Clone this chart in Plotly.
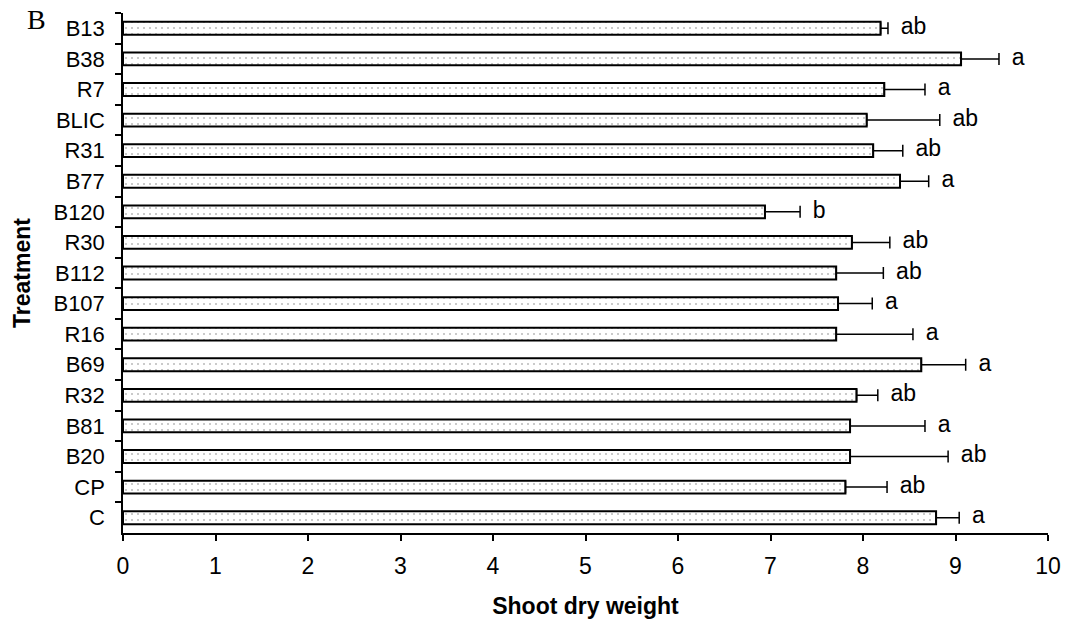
import plotly.graph_objects as go

treatments = ["B13", "B38", "R7", "BLIC", "R31", "B77", "B120", "R30", "B112",
              "B107", "R16", "B69", "R32", "B81", "B20", "CP", "C"]
shoot_dry_weight = [8.19, 9.06, 8.23, 8.04, 8.11, 8.40, 6.94, 7.88, 7.71,
                    7.73, 7.71, 8.63, 7.93, 7.86, 7.86, 7.81, 8.79]
error_plus = [0.08, 0.41, 0.44, 0.79, 0.32, 0.31, 0.38, 0.41, 0.51,
              0.37, 0.83, 0.48, 0.23, 0.81, 1.06, 0.45, 0.25]
letters = ["ab", "a", "a", "ab", "ab", "a", "b", "ab", "ab",
           "a", "a", "a", "ab", "a", "ab", "ab", "a"]

FONT = "Liberation Sans, Arial, sans-serif"

fig = go.Figure()
fig.add_trace(go.Bar(
    y=treatments,
    x=shoot_dry_weight,
    orientation="h",
    width=0.42,
    marker=dict(
        color="white",
        line=dict(color="black", width=2),
        pattern=dict(shape=".", fgcolor="#7a7a7a", bgcolor="white", size=6, solidity=0.1),
    ),
    error_x=dict(
        type="data",
        symmetric=False,
        array=error_plus,
        arrayminus=[0] * len(error_plus),
        color="black",
        thickness=1.5,
        width=6,
    ),
    showlegend=False,
))

fig.add_trace(go.Scatter(
    y=treatments,
    x=[v + e for v, e in zip(shoot_dry_weight, error_plus)],
    mode="text",
    text=letters,
    texttemplate="  %{text}",
    textposition="middle right",
    textfont=dict(family=FONT, size=23, color="black"),
    showlegend=False,
    cliponaxis=False,
))

fig.update_layout(
    width=1071,
    height=625,
    margin=dict(l=123, r=23, t=13, b=92),
    paper_bgcolor="white",
    plot_bgcolor="white",
    font=dict(family=FONT, color="black"),
    annotations=[dict(
        text="B", xref="paper", yref="paper", x=-0.081, y=0.987,
        xanchor="right", yanchor="middle", showarrow=False,
        font=dict(family="Liberation Serif, Times New Roman, serif", size=28, color="black"),
    )],
)

fig.update_xaxes(
    range=[0, 10],
    dtick=1,
    tick0=0,
    showline=True,
    linecolor="black",
    linewidth=1.5,
    ticks="outside",
    ticklen=6,
    tickwidth=1.5,
    tickcolor="black",
    showgrid=False,
    zeroline=False,
    automargin=False,
    tickfont=dict(family=FONT, size=23, color="black"),
    ticklabelstandoff=6,
    title=dict(text="<b>Shoot dry weight</b>", font=dict(family=FONT, size=23, color="black"), standoff=20),
)

fig.update_yaxes(
    categoryorder="array",
    categoryarray=treatments,
    range=[len(treatments) - 0.5, -0.5],
    showline=True,
    linecolor="black",
    linewidth=1.5,
    ticks="outside",
    tickson="boundaries",
    ticklen=6,
    tickwidth=1.5,
    tickcolor="black",
    showgrid=False,
    zeroline=False,
    automargin=False,
    tickfont=dict(family=FONT, size=22, color="black"),
    ticklabelstandoff=12,
    title=dict(text="<b>Treatment</b>", font=dict(family=FONT, size=23, color="black"), standoff=16),
)

fig.write_html("out.html")
